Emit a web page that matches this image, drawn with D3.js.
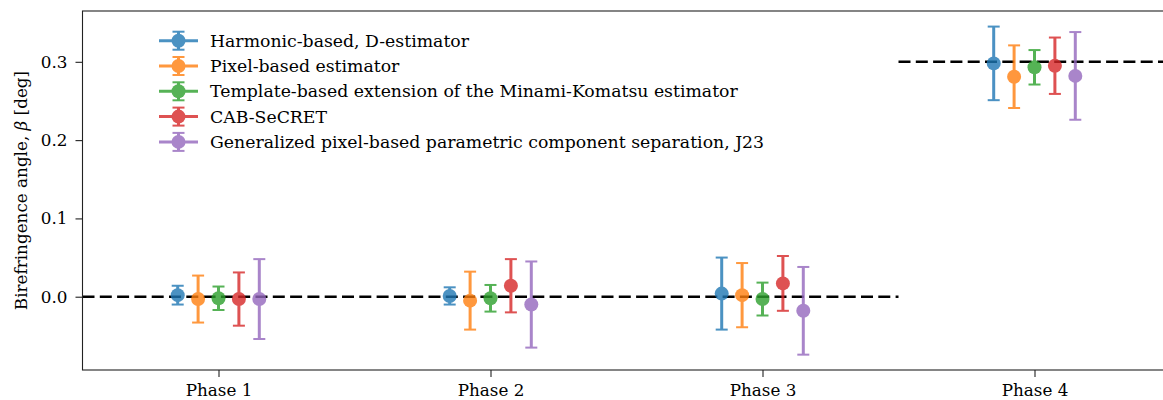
<!DOCTYPE html>
<html>
<head>
<meta charset="utf-8">
<script src="https://cdn.jsdelivr.net/npm/d3@7"></script>
<style>
  html, body { margin: 0; padding: 0; background: #fff; }
  svg { display: block; font-family: "DejaVu Serif", serif; }
</style>
</head>
<body>
<svg id="chart" width="1163" height="400"></svg>
<script>
// ---- data ----
const phases = ["Phase 1", "Phase 2", "Phase 3", "Phase 4"];
const seriesNames = [
  "Harmonic-based, D-estimator",
  "Pixel-based estimator",
  "Template-based extension of the Minami-Komatsu estimator",
  "CAB-SeCRET",
  "Generalized pixel-based parametric component separation, J23"
];
const seriesColors = ["#1f77b4", "#ff7f0e", "#2ca02c", "#d62728", "#9467bd"];
const seriesOffsets = [-0.15, -0.075, 0, 0.075, 0.15];
// values per series, one per phase
const harmonicValues = [0.002, 0.001, 0.004, 0.298];
const harmonicErrors = [0.012, 0.011, 0.046, 0.047];
const pixelValues = [-0.003, -0.005, 0.002, 0.281];
const pixelErrors = [0.030, 0.037, 0.041, 0.040];
const templateValues = [-0.002, -0.002, -0.003, 0.293];
const templateErrors = [0.015, 0.017, 0.021, 0.022];
const cabValues = [-0.003, 0.014, 0.017, 0.295];
const cabErrors = [0.034, 0.034, 0.035, 0.036];
const gppcsValues = [-0.003, -0.010, -0.018, 0.282];
const gppcsErrors = [0.051, 0.055, 0.056, 0.056];
// input (true) angles: 0 for phases 1-3, 0.3 for phase 4
const trueSegmentStarts = [-0.5, 2.5];
const trueSegmentEnds = [2.5, 3.5];
const trueSegmentValues = [0.0, 0.3];
const yTicks = [0.0, 0.1, 0.2, 0.3];

const allValues = [harmonicValues, pixelValues, templateValues, cabValues, gppcsValues];
const allErrors = [harmonicErrors, pixelErrors, templateErrors, cabErrors, gppcsErrors];

// ---- layout ----
const svg = d3.select("#chart");
const L = 82.5, R = 1170.5, T = 11, B = 370;
const x = d3.scaleLinear().domain([-0.5, 3.5]).range([L, R]);
const y = d3.scaleLinear().domain([-0.0936, 0.3649]).range([B, T]);

svg.append("clipPath").attr("id", "clip")
  .append("rect").attr("x", L).attr("y", T).attr("width", R - L).attr("height", B - T);

const plot = svg.append("g").attr("clip-path", "url(#clip)");

// reference dashed lines
plot.selectAll("line.ref").data(trueSegmentValues).join("line")
  .attr("class", "ref")
  .attr("x1", (d, i) => x(trueSegmentStarts[i]))
  .attr("x2", (d, i) => x(trueSegmentEnds[i]))
  .attr("y1", d => y(d)).attr("y2", d => y(d))
  .attr("stroke", "#000").attr("stroke-width", 2.6)
  .attr("stroke-dasharray", "12,5.3");

// series
seriesNames.forEach((name, s) => {
  const g = plot.append("g").attr("opacity", 0.8);
  const pts = phases.map((p, i) => ({ xi: i + seriesOffsets[s], v: allValues[s][i], e: allErrors[s][i] }));
  const col = seriesColors[s];
  const grp = g.selectAll("g").data(pts).join("g");
  grp.append("line")
    .attr("x1", d => x(d.xi)).attr("x2", d => x(d.xi))
    .attr("y1", d => y(d.v - d.e)).attr("y2", d => y(d.v + d.e))
    .attr("stroke", col).attr("stroke-width", 3);
  [-1, 1].forEach(sg => {
    grp.append("line")
      .attr("x1", d => x(d.xi) - 6).attr("x2", d => x(d.xi) + 6)
      .attr("y1", d => y(d.v + sg * d.e)).attr("y2", d => y(d.v + sg * d.e))
      .attr("stroke", col).attr("stroke-width", 2);
  });
  grp.append("circle")
    .attr("cx", d => x(d.xi)).attr("cy", d => y(d.v)).attr("r", 7)
    .attr("fill", col);
});

// frame
svg.append("rect").attr("x", L).attr("y", T).attr("width", R - L).attr("height", B - T)
  .attr("fill", "none").attr("stroke", "#222").attr("stroke-width", 1.1);

// axes
const yAxis = d3.axisLeft(y).tickValues(yTicks).tickFormat(d3.format(".1f")).tickSize(7).tickPadding(8);
const ya = svg.append("g").attr("transform", `translate(${L},0)`).call(yAxis);
ya.select(".domain").remove();
ya.selectAll("text").attr("font-family", "DejaVu Serif").attr("font-size", 16.8).attr("fill", "#000");
ya.selectAll("line").attr("stroke", "#222").attr("stroke-width", 1.1);

const xAxis = d3.axisBottom(x).tickValues(phases.map((p, i) => i)).tickFormat(i => phases[i]).tickSize(7).tickPadding(7);
const xa = svg.append("g").attr("transform", `translate(0,${B})`).call(xAxis);
xa.select(".domain").remove();
xa.selectAll("text").attr("font-family", "DejaVu Serif").attr("font-size", 16.8).attr("fill", "#000");
xa.selectAll("line").attr("stroke", "#222").attr("stroke-width", 1.1);

// y label
const yl = svg.append("text")
  .attr("transform", `translate(20.5,${(T + B) / 2}) rotate(-90)`)
  .attr("text-anchor", "middle").attr("dominant-baseline", "central")
  .attr("font-size", 16.8).attr("fill", "#000");
yl.append("tspan").text("Birefringence angle, ");
yl.append("tspan").attr("font-style", "italic").text("β");
yl.append("tspan").text(" [deg]");

// legend
const leg = svg.append("g");
const rowY = i => 40.7 + i * 25.3;
seriesNames.forEach((name, s) => {
  const col = seriesColors[s];
  const g = leg.append("g").attr("opacity", 0.8);
  const cy = rowY(s);
  g.append("line").attr("x1", 159).attr("x2", 198).attr("y1", cy).attr("y2", cy)
    .attr("stroke", col).attr("stroke-width", 3);
  g.append("line").attr("x1", 178.5).attr("x2", 178.5).attr("y1", cy - 9).attr("y2", cy + 9)
    .attr("stroke", col).attr("stroke-width", 3);
  [-9, 9].forEach(o => g.append("line").attr("x1", 172.5).attr("x2", 184.5)
    .attr("y1", cy + o).attr("y2", cy + o).attr("stroke", col).attr("stroke-width", 2));
  g.append("circle").attr("cx", 178.5).attr("cy", cy).attr("r", 7).attr("fill", col);
  leg.append("text").attr("x", 210).attr("y", cy).attr("dy", "0.35em")
    .attr("font-size", 17.3).attr("fill", "#000").text(name);
});
</script>
</body>
</html>
